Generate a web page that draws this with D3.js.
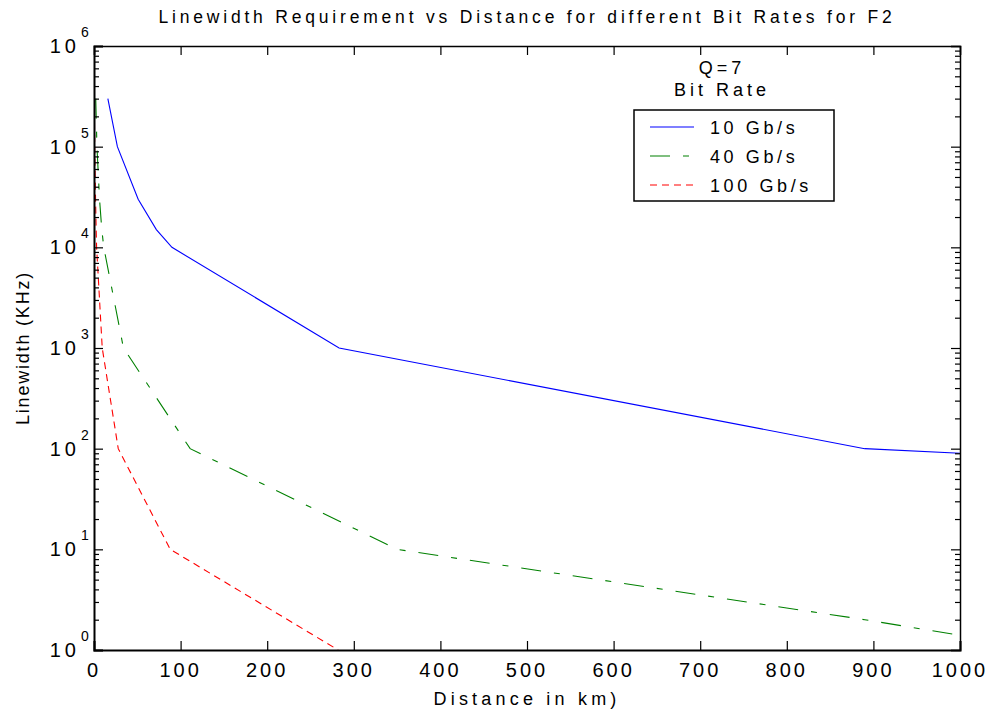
<!DOCTYPE html>
<html>
<head>
<meta charset="utf-8">
<script src="https://cdn.jsdelivr.net/npm/d3@7"></script>
<style>
  html, body { margin: 0; padding: 0; background: #fff; }
  svg { display: block; font-family: "Liberation Sans", Arial, sans-serif; }
</style>
</head>
<body>
<svg id="chart" width="991" height="716"></svg>
<script>
// Distance (km) and required linewidth (kHz) for each bit rate, Q = 7
const dist10 = [16, 27, 51, 72, 90, 283, 890, 1000];
const lw10   = [3e5, 1e5, 3e4, 1.5e4, 1e4, 1e3, 1e2, 90];

const dist40 = [2, 3.4, 6.4, 9, 11.3, 34, 111, 350, 890, 1000];
const lw40   = [3e5, 1e5, 3e4, 1.5e4, 1e4, 1e3, 1e2, 10, 2, 1.4];

const dist100 = [0.3, 0.8, 1.8, 2.5, 3, 9.5, 28, 88, 282];
const lw100   = [3e5, 1e5, 3e4, 1.5e4, 1e4, 1e3, 1e2, 10, 1];

const seriesNames = ["10 Gb/s", "40 Gb/s", "100 Gb/s"];
const xTicks = [0, 100, 200, 300, 400, 500, 600, 700, 800, 900, 1000];
const yExponents = [0, 1, 2, 3, 4, 5, 6];

const svg = d3.select("#chart");
const plotLeft = 94, plotRight = 960, plotTop = 46, plotBottom = 650;

const x = d3.scaleLinear().domain([0, 1000]).range([plotLeft, plotRight]);
const y = d3.scaleLog().domain([1, 1e6]).range([plotBottom, plotTop]);

const series = [
  { name: seriesNames[0], d: dist10, v: lw10, color: "#0000ff", dash: null },
  { name: seriesNames[1], d: dist40, v: lw40, color: "#008000", dash: "20,13,6,13" },
  { name: seriesNames[2], d: dist100, v: lw100, color: "#ff0000", dash: "7,5" }
];

svg.append("defs").append("clipPath").attr("id", "plotClip")
  .append("rect").attr("x", plotLeft).attr("y", plotTop)
  .attr("width", plotRight - plotLeft).attr("height", plotBottom - plotTop);

// Curves
const line = d3.line().x(p => x(p[0])).y(p => y(p[1]));
const plot = svg.append("g").attr("clip-path", "url(#plotClip)");
series.forEach(s => {
  plot.append("path")
    .datum(s.d.map((d, i) => [d, s.v[i]]))
    .attr("d", line)
    .attr("fill", "none")
    .attr("stroke", s.color)
    .attr("stroke-width", 1.1)
    .attr("stroke-dasharray", s.dash);
});

// Axes with inward ticks, mirrored on top and right
const minorVals = [];
for (let e = 0; e < 6; e++) for (let m = 2; m <= 9; m++) minorVals.push(m * Math.pow(10, e));
const majorVals = yExponents.map(e => Math.pow(10, e));

const axB = d3.axisBottom(x).tickValues(xTicks).tickSize(-9).tickFormat("");
const axT = d3.axisTop(x).tickValues(xTicks).tickSize(-9).tickFormat("");
const axL = d3.axisLeft(y).tickValues(majorVals).tickSize(-9).tickFormat("");
const axR = d3.axisRight(y).tickValues(majorVals).tickSize(-9).tickFormat("");
const axLm = d3.axisLeft(y).tickValues(minorVals).tickSize(-5).tickFormat("");
const axRm = d3.axisRight(y).tickValues(minorVals).tickSize(-5).tickFormat("");

function styleAxis(g, w) {
  g.select(".domain").attr("stroke", "#000").attr("stroke-width", w);
  g.selectAll(".tick line").attr("stroke", "#000").attr("stroke-width", 1.2);
}
svg.append("g").attr("transform", `translate(0,${plotBottom})`).call(axB).call(g => styleAxis(g, 2));
svg.append("g").attr("transform", `translate(0,${plotTop})`).call(axT).call(g => styleAxis(g, 1.5));
svg.append("g").attr("transform", `translate(${plotLeft},0)`).call(axL).call(g => styleAxis(g, 2));
svg.append("g").attr("transform", `translate(${plotRight},0)`).call(axR).call(g => styleAxis(g, 1.5));
svg.append("g").attr("transform", `translate(${plotLeft},0)`).call(axLm).call(g => { g.select(".domain").remove(); styleAxis(g, 0); });
svg.append("g").attr("transform", `translate(${plotRight},0)`).call(axRm).call(g => { g.select(".domain").remove(); styleAxis(g, 0); });

// Tick labels
svg.append("g").selectAll("text").data(xTicks).join("text")
  .attr("x", d => x(d)).attr("y", 677)
  .attr("text-anchor", "middle")
  .attr("font-size", 20).attr("letter-spacing", 3)
  .text(d => d);

const yl = svg.append("g").selectAll("g").data(yExponents).join("g")
  .attr("transform", e => `translate(0,${y(Math.pow(10, e))})`);
yl.append("text").attr("x", 80).attr("y", 7)
  .attr("text-anchor", "end").attr("font-size", 20).attr("letter-spacing", 4)
  .text("10");
yl.append("text").attr("x", 81).attr("y", -9)
  .attr("font-size", 14).text(e => e);

// Titles
svg.append("text").attr("x", (plotLeft + plotRight) / 2).attr("y", 23)
  .attr("text-anchor", "middle").attr("font-size", 17.5).attr("letter-spacing", 3.8)
  .text("Linewidth Requirement vs Distance for different Bit Rates for F2");
svg.append("text").attr("x", (plotLeft + plotRight) / 2).attr("y", 705)
  .attr("text-anchor", "middle").attr("font-size", 18).attr("letter-spacing", 4.2)
  .text("Distance in km)");
svg.append("text")
  .attr("transform", `translate(29,${(plotTop + plotBottom) / 2}) rotate(-90)`)
  .attr("text-anchor", "middle").attr("font-size", 18).attr("letter-spacing", 1.8)
  .text("Linewidth (KHz)");

// Legend
const lg = svg.append("g");
lg.append("text").attr("x", 722).attr("y", 74).attr("text-anchor", "middle")
  .attr("font-size", 18).attr("letter-spacing", 4).text("Q=7");
lg.append("text").attr("x", 722).attr("y", 96).attr("text-anchor", "middle")
  .attr("font-size", 18).attr("letter-spacing", 4).text("Bit Rate");
lg.append("rect").attr("x", 634).attr("y", 110).attr("width", 200).attr("height", 91)
  .attr("fill", "#fff").attr("stroke", "#000").attr("stroke-width", 1.5);
const rows = lg.selectAll("g.row").data(series).join("g").attr("class", "row")
  .attr("transform", (s, i) => `translate(0,${127 + i * 29})`);
rows.append("line").attr("x1", 650).attr("x2", 694).attr("y1", 0).attr("y2", 0)
  .attr("stroke", s => s.color).attr("stroke-width", 1.1)
  .attr("stroke-dasharray", s => s.dash);
rows.append("text").attr("x", 710).attr("y", 7)
  .attr("font-size", 18).attr("letter-spacing", 3.6).text(s => s.name);
</script>
</body>
</html>
